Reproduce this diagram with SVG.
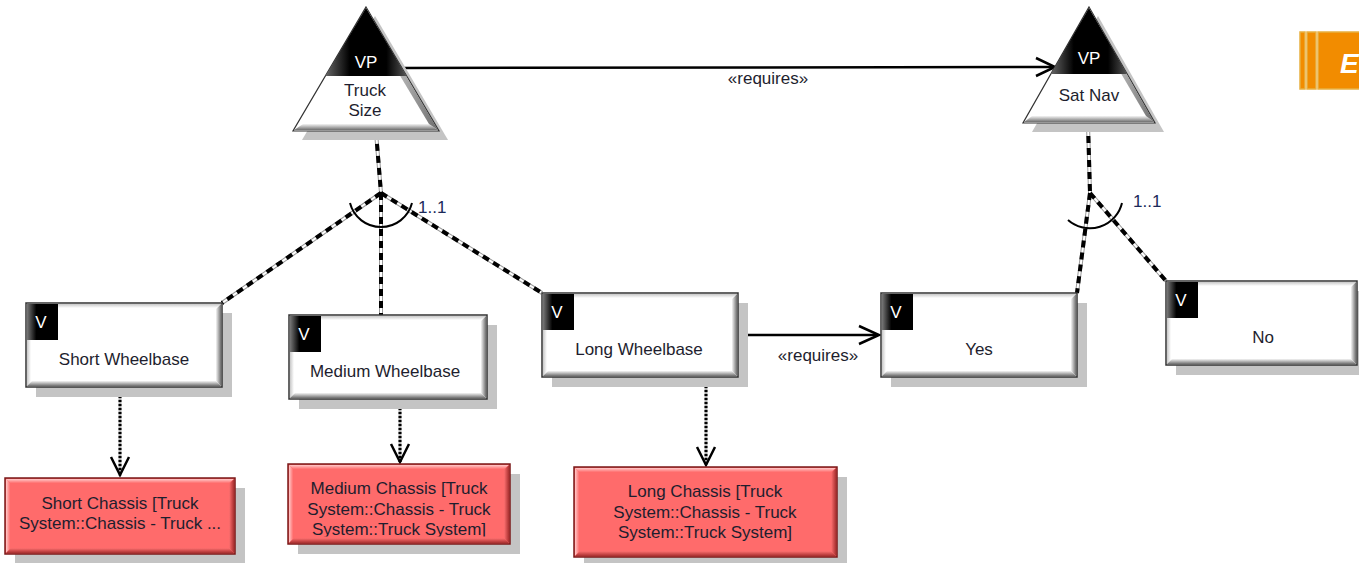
<svg xmlns="http://www.w3.org/2000/svg" width="1359" height="563" viewBox="0 0 1359 563">
<style>
text{font-family:"Liberation Sans",Arial,sans-serif;font-size:17px;fill:#1e1e2e}
.c{text-anchor:middle}
.w{fill:#fff}
.shadow{fill:#c4c4c4}
.box{fill:#fff;stroke:#333;stroke-width:1.5}
.chs{fill:#ff6b6b;stroke:#7a1818;stroke-width:1.5}
.dashbg{fill:none;stroke:#9a9a9a;stroke-width:4}
.dashw{fill:none;stroke:#fff;stroke-width:2}
.dash{fill:none;stroke:#000;stroke-width:4;stroke-dasharray:7 5}
.dotbg{fill:none;stroke:#b0b0b0;stroke-width:3}
.dot{fill:none;stroke:#000;stroke-width:3;stroke-dasharray:2 2}
.solid{fill:none;stroke:#000;stroke-width:2.5}
.head{fill:none;stroke:#000;stroke-width:2.5;stroke-linejoin:miter}
.arc{fill:none;stroke:#000;stroke-width:2}
.orange{fill:#f28c00;stroke:#e8b040;stroke-width:1.5}
</style>
<defs>
<linearGradient id="bB" x1="0" y1="0" x2="0" y2="1"><stop offset="0" stop-color="#f4f4f4"/><stop offset="1" stop-color="#6e6e6e"/></linearGradient>
<linearGradient id="bR" x1="0" y1="0" x2="1" y2="0"><stop offset="0" stop-color="#f4f4f4"/><stop offset="1" stop-color="#6e6e6e"/></linearGradient>
<linearGradient id="bT" x1="0" y1="0" x2="0" y2="1"><stop offset="0" stop-color="#c8c8c8"/><stop offset="1" stop-color="#ffffff"/></linearGradient>
<linearGradient id="bL" x1="0" y1="0" x2="1" y2="0"><stop offset="0" stop-color="#c8c8c8"/><stop offset="1" stop-color="#ffffff"/></linearGradient>
<linearGradient id="rB" x1="0" y1="0" x2="0" y2="1"><stop offset="0" stop-color="#ff7070"/><stop offset="1" stop-color="#a83030"/></linearGradient>
<linearGradient id="rR" x1="0" y1="0" x2="1" y2="0"><stop offset="0" stop-color="#ff7070"/><stop offset="1" stop-color="#a83030"/></linearGradient>
<linearGradient id="rT" x1="0" y1="0" x2="0" y2="1"><stop offset="0" stop-color="#ffc8c8"/><stop offset="1" stop-color="#ff7070"/></linearGradient>
<linearGradient id="rL" x1="0" y1="0" x2="1" y2="0"><stop offset="0" stop-color="#ffc8c8"/><stop offset="1" stop-color="#ff7070"/></linearGradient>
<linearGradient id="vb" x1="0" y1="0" x2="1" y2="0"><stop offset="0" stop-color="#777"/><stop offset="0.3" stop-color="#000"/><stop offset="1" stop-color="#000"/></linearGradient>
<linearGradient id="dk" x1="0" y1="0" x2="1" y2="0"><stop offset="0" stop-color="#666"/><stop offset="0.3" stop-color="#000"/><stop offset="0.75" stop-color="#000"/><stop offset="1" stop-color="#555"/></linearGradient>
<clipPath id="medclip"><rect x="0" y="0" width="222" height="72.5"/></clipPath>
</defs>

<g id="connectors">
  <path class="dashbg" d="M376,132 L381,193 M381,193 L222,303 M381,193 L381,315 M381,193 L542,293"/>
  <path class="dashw" d="M376,132 L381,193 M381,193 L222,303 M381,193 L381,315 M381,193 L542,293"/>
  <path class="dash" d="M376,132 L381,193 M381,193 L222,303 M381,193 L381,315 M381,193 L542,293"/>
  <path class="arc" d="M350,203 A32,32 0 0 0 412,203"/>
  <text x="418" y="213" style="fill:#1c2a5a">1..1</text>
  <path class="dashbg" d="M1088,124 L1090,193 M1090,193 L1077,293 M1090,193 L1166,281"/>
  <path class="dashw" d="M1088,124 L1090,193 M1090,193 L1077,293 M1090,193 L1166,281"/>
  <path class="dash" d="M1088,124 L1090,193 M1090,193 L1077,293 M1090,193 L1166,281"/>
  <path class="arc" d="M1068,220 A33,33 0 0 0 1122,203"/>
  <text x="1133" y="207" style="fill:#1c2a5a">1..1</text>
  <path class="solid" d="M400,68 L1054,67"/>
  <path class="head" d="M1036,58 L1055,67 L1036,76"/>
  <text class="c" x="768" y="84">«requires»</text>
  <path class="solid" d="M738,335 L878,335"/>
  <path class="head" d="M859,326 L879,335 L859,344"/>
  <text class="c" x="818" y="361">«requires»</text>
  <path class="dotbg" d="M120,388 L120,476 M400,400 L400,462 M706,378 L706,465"/>
  <path class="dot" d="M120,388 L120,476 M400,400 L400,462 M706,378 L706,465"/>
  <path class="head" d="M111,457 L120,475 L129,457"/>
  <path class="head" d="M391,444 L400,462 L409,444"/>
  <path class="head" d="M697,447 L706,465 L715,447"/>
</g>

<g id="truck-size">
  <polygon class="shadow" points="375,16 448,140 302,140"/>
  <polygon fill="#fff" stroke="#333" stroke-width="1.2" points="366,7 439,131 293,131"/>
  <polygon fill="url(#bB)" points="294,130 438,130 429,124 303,124"/>
  <polygon fill="url(#bR)" points="366,8 438,130 429,124 366,19"/>
  <polygon fill="url(#dk)" points="366,8 325.4,76 406.6,76"/>
  <text class="c w" x="366" y="68">VP</text>
  <text class="c" x="365" y="96">Truck</text>
  <text class="c" x="365" y="116">Size</text>
</g>

<g id="sat-nav">
  <polygon class="shadow" points="1098,16 1164,132 1032,132"/>
  <polygon fill="#fff" stroke="#333" stroke-width="1.2" points="1089,7 1155,123 1023,123"/>
  <polygon fill="url(#bB)" points="1024,122 1154,122 1146,116 1032,116"/>
  <polygon fill="url(#bR)" points="1089,8 1154,122 1146,116 1089,19"/>
  <polygon fill="url(#dk)" points="1089,8 1050.9,74 1127.1,74"/>
  <text class="c w" x="1089" y="64">VP</text>
  <text class="c" x="1089" y="101">Sat Nav</text>
</g>

<g id="short-wheelbase" transform="translate(26,303)">
  <rect class="shadow" x="10" y="10" width="196" height="84"/>
  <rect class="box" x="0" y="0" width="196" height="84"/>
  <polygon fill="url(#bT)" points="1,1 195,1 190,5 5,5"/>
  <polygon fill="url(#bL)" points="1,1 1,83 5,79 5,5"/>
  <polygon fill="url(#bB)" points="1,83 195,83 190,78 6,78"/>
  <polygon fill="url(#bR)" points="195,1 195,83 190,78 190,6"/>
  <rect x="1" y="1" width="31" height="36" fill="url(#vb)"/>
  <text class="c w" x="15" y="25">V</text>
  <text class="c" x="98" y="62">Short Wheelbase</text>
</g>

<g id="medium-wheelbase" transform="translate(289,315)">
  <rect class="shadow" x="10" y="10" width="198" height="84"/>
  <rect class="box" x="0" y="0" width="198" height="84"/>
  <polygon fill="url(#bT)" points="1,1 197,1 192,5 5,5"/>
  <polygon fill="url(#bL)" points="1,1 1,83 5,79 5,5"/>
  <polygon fill="url(#bB)" points="1,83 197,83 192,78 6,78"/>
  <polygon fill="url(#bR)" points="197,1 197,83 192,78 192,6"/>
  <rect x="1" y="1" width="31" height="36" fill="url(#vb)"/>
  <text class="c w" x="15" y="25">V</text>
  <text class="c" x="96" y="62">Medium Wheelbase</text>
</g>

<g id="long-wheelbase" transform="translate(542,293)">
  <rect class="shadow" x="10" y="10" width="196" height="84"/>
  <rect class="box" x="0" y="0" width="196" height="84"/>
  <polygon fill="url(#bT)" points="1,1 195,1 190,5 5,5"/>
  <polygon fill="url(#bL)" points="1,1 1,83 5,79 5,5"/>
  <polygon fill="url(#bB)" points="1,83 195,83 190,78 6,78"/>
  <polygon fill="url(#bR)" points="195,1 195,83 190,78 190,6"/>
  <rect x="1" y="1" width="31" height="36" fill="url(#vb)"/>
  <text class="c w" x="15" y="25">V</text>
  <text class="c" x="97" y="62">Long Wheelbase</text>
</g>

<g id="yes" transform="translate(881,293)">
  <rect class="shadow" x="10" y="10" width="196" height="84"/>
  <rect class="box" x="0" y="0" width="196" height="84"/>
  <polygon fill="url(#bT)" points="1,1 195,1 190,5 5,5"/>
  <polygon fill="url(#bL)" points="1,1 1,83 5,79 5,5"/>
  <polygon fill="url(#bB)" points="1,83 195,83 190,78 6,78"/>
  <polygon fill="url(#bR)" points="195,1 195,83 190,78 190,6"/>
  <rect x="1" y="1" width="31" height="36" fill="url(#vb)"/>
  <text class="c w" x="15" y="25">V</text>
  <text class="c" x="98" y="62">Yes</text>
</g>

<g id="no" transform="translate(1166,281)">
  <rect class="shadow" x="10" y="10" width="191" height="84"/>
  <rect class="box" x="0" y="0" width="191" height="84"/>
  <polygon fill="url(#bT)" points="1,1 190,1 185,5 5,5"/>
  <polygon fill="url(#bL)" points="1,1 1,83 5,79 5,5"/>
  <polygon fill="url(#bB)" points="1,83 190,83 185,78 6,78"/>
  <polygon fill="url(#bR)" points="190,1 190,83 185,78 185,6"/>
  <rect x="1" y="1" width="31" height="36" fill="url(#vb)"/>
  <text class="c w" x="15" y="25">V</text>
  <text class="c" x="97" y="62">No</text>
</g>

<g id="short-chassis" transform="translate(5,478)">
  <rect class="shadow" x="10" y="10" width="230" height="76"/>
  <rect class="chs" x="0" y="0" width="230" height="76"/>
  <polygon fill="url(#rT)" points="1,1 229,1 224,5 5,5"/>
  <polygon fill="url(#rL)" points="1,1 1,75 5,71 5,5"/>
  <polygon fill="url(#rB)" points="1,75 229,75 224,70 6,70"/>
  <polygon fill="url(#rR)" points="229,1 229,75 224,70 224,6"/>
  <text class="c" x="115" y="31">Short Chassis [Truck</text>
  <text class="c" x="115" y="51">System::Chassis - Truck ...</text>
</g>

<g id="medium-chassis" transform="translate(288,464)">
  <rect class="shadow" x="10" y="10" width="222" height="80"/>
  <rect class="chs" x="0" y="0" width="222" height="80"/>
  <polygon fill="url(#rT)" points="1,1 221,1 216,5 5,5"/>
  <polygon fill="url(#rL)" points="1,1 1,79 5,75 5,5"/>
  <polygon fill="url(#rB)" points="1,79 221,79 216,74 6,74"/>
  <polygon fill="url(#rR)" points="221,1 221,79 216,74 216,6"/>
  <text class="c" x="111" y="30">Medium Chassis [Truck</text>
  <text class="c" x="111" y="51">System::Chassis - Truck</text>
  <text class="c" x="111" y="71" clip-path="url(#medclip)">System::Truck System]</text>
</g>

<g id="long-chassis" transform="translate(574,467)">
  <rect class="shadow" x="10" y="10" width="263" height="90"/>
  <rect class="chs" x="0" y="0" width="263" height="90"/>
  <polygon fill="url(#rT)" points="1,1 262,1 257,5 5,5"/>
  <polygon fill="url(#rL)" points="1,1 1,89 5,85 5,5"/>
  <polygon fill="url(#rB)" points="1,89 262,89 257,84 6,84"/>
  <polygon fill="url(#rR)" points="262,1 262,89 257,84 257,6"/>
  <text class="c" x="131" y="30">Long Chassis [Truck</text>
  <text class="c" x="131" y="51">System::Chassis - Truck</text>
  <text class="c" x="131" y="71">System::Truck System]</text>
</g>

<g id="corner-badge">
  <rect class="orange" x="1300" y="32" width="5" height="57"/>
  <rect class="orange" x="1307" y="32" width="9" height="57"/>
  <rect class="orange" x="1318" y="32" width="50" height="57"/>
  <text x="1340" y="73" style="font-size:28px;font-weight:bold;font-style:italic;fill:#fff">E</text>
</g>
</svg>
